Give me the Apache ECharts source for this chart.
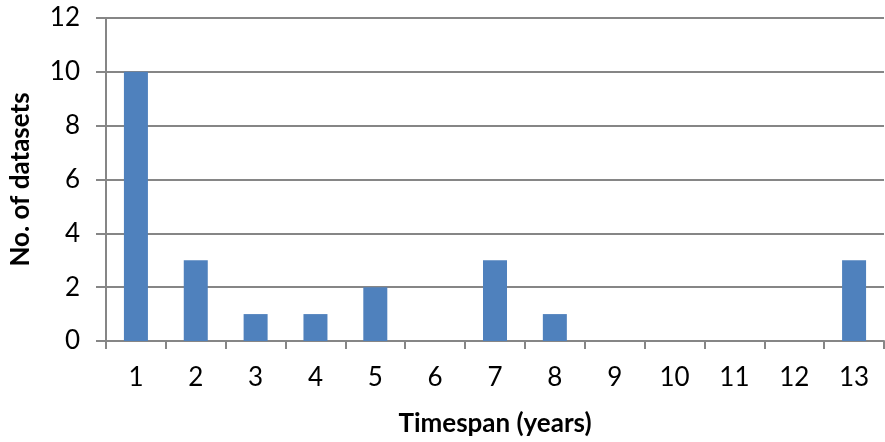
<!DOCTYPE html>
<html>
<head>
<meta charset="utf-8">
<script src="https://cdn.jsdelivr.net/npm/echarts@6/dist/echarts.min.js"></script>
<style>html,body{margin:0;padding:0;background:#fff}#c{width:885px;height:442px}</style>
</head>
<body>
<div id="c"></div>
<script>
const categories = ['1','2','3','4','5','6','7','8','9','10','11','12','13'];
const datasetCounts = [10,3,1,1,2,0,3,1,0,0,0,0,3];
const yTicks = {min:0, max:12, interval:2};
const xName = 'Timespan (years)';
const yName = 'No. of datasets';

const chart = echarts.init(document.getElementById('c'));
const font = 'Lato, "Liberation Sans", sans-serif';
const gray = '#868686';
chart.setOption({
  animation:false,
  grid:{left:106,right:1,top:18,bottom:99,containLabel:false},
  xAxis:{
    type:'category', data:categories,
    name:xName, nameLocation:'middle', nameGap:70,
    nameTextStyle:{fontFamily:font,fontWeight:'bold',fontSize:26,color:'#000'},
    axisLine:{lineStyle:{color:gray,width:2}},
    axisTick:{show:true,length:8,lineStyle:{color:gray,width:2}},
    axisLabel:{fontFamily:font,fontSize:26,color:'#000',margin:24}
  },
  yAxis:{
    type:'value', min:yTicks.min, max:yTicks.max, interval:yTicks.interval,
    name:yName, nameLocation:'middle', nameGap:72,
    nameTextStyle:{fontFamily:font,fontWeight:'bold',fontSize:26,color:'#000'},
    axisLine:{show:true,lineStyle:{color:gray,width:2}},
    axisTick:{show:true,length:10,lineStyle:{color:gray,width:2}},
    splitLine:{lineStyle:{color:gray,width:2}},
    axisLabel:{fontFamily:font,fontSize:26,color:'#000',margin:26}
  },
  series:[{
    type:'bar', data:datasetCounts, barWidth:24,
    itemStyle:{color:'#4F81BD'}
  }]
});
</script>
</body>
</html>
